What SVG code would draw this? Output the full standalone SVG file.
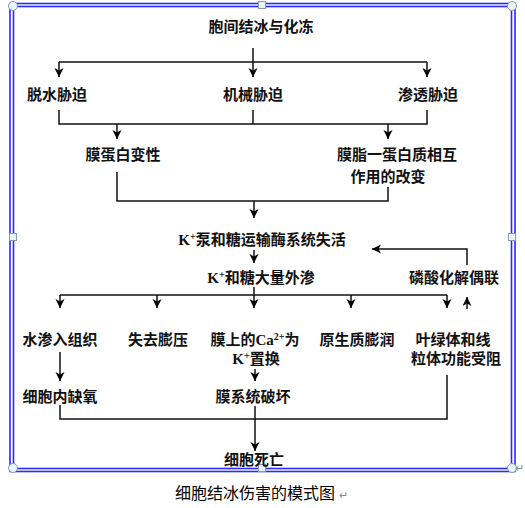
<svg xmlns="http://www.w3.org/2000/svg" width="525" height="508" viewBox="0 0 525 508">
<defs>
<marker id="ah" markerUnits="userSpaceOnUse" markerWidth="10" markerHeight="10" refX="9" refY="4.5" orient="auto">
<path d="M0,0 L9,4.5 L0,9 L2.5,4.5 z" fill="#000"/>
</marker>
<style>
.t{font-family:"Liberation Serif","Noto Sans CJK SC",serif;font-size:15px;font-weight:bold;fill:#111;text-anchor:middle}
.c path{fill:none;stroke:#111;stroke-width:1.5}
.a{marker-end:url(#ah)}
.frame{fill:none;stroke:#2a2aff;stroke-width:1.6}
.hc{fill:#e6f6fa;stroke:#8899aa;stroke-width:1}
.cap{font-family:"Noto Sans CJK SC",sans-serif;font-size:16px;fill:#000;text-anchor:middle}
.pm{font-family:"Liberation Sans",sans-serif;font-size:11px;fill:#888}
</style>
</defs>
<rect width="525" height="508" fill="#fff"/>
<g id="frame">
<rect class="frame" x="10" y="3.5" width="505" height="468"/>
<rect class="frame" x="13.5" y="6.5" width="498" height="462"/>
<circle class="hc" cx="13" cy="6" r="4.5"/>
<circle class="hc" cx="512" cy="6" r="4.5"/>
<circle class="hc" cx="13" cy="468" r="4.5"/>
<circle class="hc" cx="512" cy="468" r="4.5"/>
<rect class="hc" x="258.5" y="1.5" width="7" height="7"/>
<rect class="hc" x="258.5" y="464.5" width="7" height="7"/>
<rect class="hc" x="9.5" y="233.5" width="7" height="7"/>
<rect class="hc" x="508.5" y="233.5" width="7" height="7"/>
</g>
<g id="connectors" class="c">
<path class="a" d="M253,48 V77"/>
<path d="M59,62 H427"/>
<path class="a" d="M59,62 V77"/>
<path class="a" d="M427,62 V77"/>
<path d="M59,110 V124 H427 V110"/>
<path d="M253,110 V124"/>
<path class="a" d="M117,124 V139"/>
<path class="a" d="M388,124 V139"/>
<path d="M117,172 V201 H388 V187"/>
<path class="a" d="M254,201 V218"/>
<path class="a" d="M467,265 V249 H372"/>
<path class="a" d="M254,250 V263"/>
<path d="M254,287 V295"/>
<path d="M60,295 H447"/>
<path class="a" d="M60,295 V308"/>
<path class="a" d="M157,295 V308"/>
<path class="a" d="M254,295 V308"/>
<path class="a" d="M351,295 V308"/>
<path class="a" d="M447,295 V308"/>
<path class="a" d="M467,309 V297"/>
<path class="a" d="M60,352 V381"/>
<path class="a" d="M255,369 V381"/>
<path d="M60,405 V419 H447 V375"/>
<path class="a" d="M255,406 V451"/>
</g>
<g id="n1"><text class="t" x="261" y="32">胞间结冰与化冻</text></g>
<g id="n2"><text class="t" x="57" y="100">脱水胁迫</text></g>
<g id="n3"><text class="t" x="253" y="100">机械胁迫</text></g>
<g id="n4"><text class="t" x="428" y="100">渗透胁迫</text></g>
<g id="n5"><text class="t" x="123" y="160">膜蛋白变性</text></g>
<g id="n6"><text class="t" x="397" y="160">膜脂一蛋白质相互</text><text class="t" x="388" y="182">作用的改变</text></g>
<g id="n7"><text class="t" x="262" y="245">K<tspan font-size="10" dy="-5">+</tspan><tspan dy="5">泵和糖运输酶系统失活</tspan></text></g>
<g id="n8"><text class="t" x="261" y="283">K<tspan font-size="10" dy="-5">+</tspan><tspan dy="5">和糖大量外渗</tspan></text></g>
<g id="n9"><text class="t" x="454" y="283">磷酸化解偶联</text></g>
<g id="n10"><text class="t" x="60" y="345">水渗入组织</text></g>
<g id="n11"><text class="t" x="158" y="345">失去膨压</text></g>
<g id="n12"><text class="t" x="255" y="345">膜上的Ca<tspan font-size="10" dy="-5">2+</tspan><tspan dy="5">为</tspan></text><text class="t" x="256" y="364">K<tspan font-size="10" dy="-5">+</tspan><tspan dy="5">置换</tspan></text></g>
<g id="n13"><text class="t" x="357" y="345">原生质膨润</text></g>
<g id="n14"><text class="t" x="453" y="345">叶绿体和线</text><text class="t" x="456" y="364">粒体功能受阻</text></g>
<g id="n15"><text class="t" x="60" y="402">细胞内缺氧</text></g>
<g id="n16"><text class="t" x="253" y="402">膜系统破坏</text></g>
<g id="n17"><text class="t" x="254" y="465">细胞死亡</text></g>
<g id="caption"><text class="cap" x="255" y="499">细胞结冰伤害的模式图</text><text class="pm" x="339" y="499">↵</text></g>
<text class="pm" x="515" y="472">↵</text>
</svg>
